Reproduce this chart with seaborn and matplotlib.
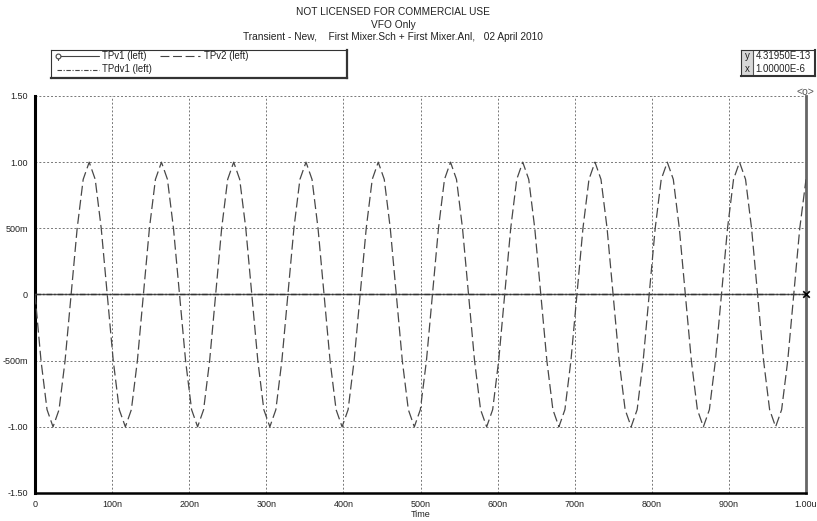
import matplotlib
matplotlib.use("Agg")
import matplotlib.pyplot as plt
import numpy as np
import pandas as pd
import seaborn as sns
from matplotlib.ticker import MultipleLocator, FixedLocator, FixedFormatter

# ---------------- data (time in ns, values in V) ----------------
tpv2_time = [0.0, 7.8, 15.6, 23.4, 31.2, 39.0, 46.9, 54.7, 62.5, 70.3, 78.1, 85.9,
             93.7, 101.5, 109.3, 117.2, 125.0, 132.8, 140.6, 148.4, 156.2, 164.0, 171.8, 179.6,
             187.4, 195.3, 203.1, 210.9, 218.7, 226.5, 234.3, 242.1, 249.9, 257.7, 265.5, 273.4,
             281.2, 289.0, 296.8, 304.6, 312.4, 320.2, 328.0, 335.8, 343.6, 351.5, 359.3, 367.1,
             374.9, 382.7, 390.5, 398.3, 406.1, 413.9, 421.7, 429.6, 437.4, 445.2, 453.0, 460.8,
             468.6, 476.4, 484.2, 492.0, 499.8, 507.7, 515.5, 523.3, 531.1, 538.9, 546.7, 554.5,
             562.3, 570.1, 577.9, 585.8, 593.6, 601.4, 609.2, 617.0, 624.8, 632.6, 640.4, 648.2,
             656.0, 663.9, 671.7, 679.5, 687.3, 695.1, 702.9, 710.7, 718.5, 726.3, 734.1, 742.0,
             749.8, 757.6, 765.4, 773.2, 781.0, 788.8, 796.6, 804.4, 812.2, 820.1, 827.9, 835.7,
             843.5, 851.3, 859.1, 866.9, 874.7, 882.5, 890.3, 898.2, 906.0, 913.8, 921.6, 929.4,
             937.2, 945.0, 952.8, 960.6, 968.4, 976.3, 984.1, 991.9, 1000.0]
tpv2_value = [0, -0.5, -0.87, -1, -0.87, -0.5, 0, 0.5, 0.87, 1, 0.87, 0.5,
              0, -0.5, -0.87, -1, -0.87, -0.5, 0, 0.5, 0.87, 1, 0.87, 0.5,
              0, -0.5, -0.87, -1, -0.87, -0.5, 0, 0.5, 0.87, 1, 0.87, 0.5,
              0, -0.5, -0.87, -1, -0.87, -0.5, 0, 0.5, 0.87, 1, 0.87, 0.5,
              0, -0.5, -0.87, -1, -0.87, -0.5, 0, 0.5, 0.87, 1, 0.87, 0.5,
              0, -0.5, -0.87, -1, -0.87, -0.5, 0, 0.5, 0.87, 1, 0.87, 0.5,
              0, -0.5, -0.87, -1, -0.87, -0.5, 0, 0.5, 0.87, 1, 0.87, 0.5,
              0, -0.5, -0.87, -1, -0.87, -0.5, 0, 0.5, 0.87, 1, 0.87, 0.5,
              0, -0.5, -0.87, -1, -0.87, -0.5, 0, 0.5, 0.87, 1, 0.87, 0.5,
              0, -0.5, -0.87, -1, -0.87, -0.5, 0, 0.5, 0.87, 1, 0.87, 0.5,
              0, -0.5, -0.87, -1, -0.87, -0.5, 0, 0.5, 0.87]
tpv1_time = [0.0, 1000.0]
tpv1_value = [0.0, 0.0]
tpdv1_time = [0.0, 1000.0]
tpdv1_value = [0.0, 0.0]
cursor_time = [1000.0]
cursor_value = [0.0]

x_ticks = [0, 100, 200, 300, 400, 500, 600, 700, 800, 900, 1000]
x_tick_labels = ["0", "100n", "200n", "300n", "400n", "500n", "600n", "700n", "800n", "900n", "1.00u"]
y_ticks = [-1.5, -1.0, -0.5, 0.0, 0.5, 1.0, 1.5]
y_tick_labels = ["-1.50", "-1.00", "-500m", "0", "500m", "1.00", "1.50"]

title_lines = ["NOT LICENSED FOR COMMERCIAL USE", "VFO Only",
               "Transient - New,    First Mixer.Sch + First Mixer.Anl,   02 April 2010"]
legend_labels = ["TPv1 (left)", "TPv2 (left)", "TPdv1 (left)"]
cursor_labels = ["y", "x"]
cursor_values = ["4.31950E-13", "1.00000E-6"]

# ---------------- style ----------------
sns.set_style("white")
plt.rcParams["font.family"] = ["Liberation Sans", "DejaVu Sans"]

W, H = 817, 521
fig = plt.figure(figsize=(W / 100, H / 100), dpi=100)


def px(x0, y0, x1, y1):
    return [x0 / W, 1 - y1 / H, (x1 - x0) / W, (y1 - y0) / H]


ax = fig.add_axes(px(35, 96, 806, 493))

df2 = pd.DataFrame({"t": tpv2_time, "v": tpv2_value})
df1 = pd.DataFrame({"t": tpv1_time, "v": tpv1_value})
dfd = pd.DataFrame({"t": tpdv1_time, "v": tpdv1_value})

sns.lineplot(data=df1, x="t", y="v", ax=ax, color="#555555", lw=1.0,
             estimator=None, sort=False, zorder=3)
sns.lineplot(data=dfd, x="t", y="v", ax=ax, color="#333333", lw=1.0,
             linestyle=(0, (4, 1.5, 1, 1.5)), estimator=None, sort=False, zorder=4)
sns.lineplot(data=df2, x="t", y="v", ax=ax, color="#484848", lw=0.9,
             linestyle=(0, (8, 3.3)), estimator=None, sort=False, zorder=5)
sns.scatterplot(x=cursor_time, y=cursor_value, ax=ax, marker="x", color="black",
                s=22, linewidth=1.2, zorder=7, clip_on=False)

ax.set_xlim(0, 1000)
ax.set_ylim(-1.5, 1.5)
ax.xaxis.set_major_locator(FixedLocator(x_ticks))
ax.xaxis.set_major_formatter(FixedFormatter(x_tick_labels))
ax.yaxis.set_major_locator(FixedLocator(y_ticks))
ax.yaxis.set_major_formatter(FixedFormatter(y_tick_labels))
ax.xaxis.set_minor_locator(MultipleLocator(20))
ax.yaxis.set_minor_locator(MultipleLocator(0.1))
ax.tick_params(axis="both", which="major", labelsize=6.5, length=3, width=1,
               colors="#222222", direction="out", pad=2)
ax.tick_params(axis="both", which="minor", length=2, width=0.8, colors="#222222",
               direction="out")
ax.grid(True, which="major", linestyle=(0, (2, 2)), color="#777777", lw=0.7, zorder=1)
ax.set_xlabel("Time", fontsize=6.5, labelpad=1, color="#222222")
ax.set_ylabel("")

ax.spines["top"].set_visible(False)
ax.spines["left"].set_linewidth(2.2)
ax.spines["left"].set_color("black")
ax.spines["bottom"].set_linewidth(1.8)
ax.spines["bottom"].set_color("black")
ax.spines["right"].set_linewidth(2.0)
ax.spines["right"].set_color("#666666")

# ---------------- titles ----------------
for i, line in enumerate(title_lines):
    fig.text(393 / W, 1 - (12 + 12.5 * i) / H, line, ha="center", va="center",
             fontsize=7.3, color="#222222")

fig.text(805 / W, 1 - 92 / H, "<o>", ha="center", va="center", fontsize=7.5,
         color="#555555")

# ---------------- legend box ----------------
lax = fig.add_axes(px(51, 50, 347, 78))
lax.set_xlim(51, 347)
lax.set_ylim(78, 50)
lax.set_xticks([])
lax.set_yticks([])
for s in ["top", "left"]:
    lax.spines[s].set_linewidth(0.8)
    lax.spines[s].set_color("#333333")
for s in ["bottom", "right"]:
    lax.spines[s].set_linewidth(1.6)
    lax.spines[s].set_color("#333333")
lax.plot([58, 99], [56, 56], color="#444444", lw=0.8)
lax.plot([58, 58], [56, 60], color="#444444", lw=0.8)
lax.plot([58], [55.5], marker="o", ms=3.5, mfc="white", mec="#444444", mew=0.8)
lax.text(102, 56, legend_labels[0], fontsize=6.9, va="center", ha="left", color="#222222")
lax.plot([160, 200], [56, 56], color="#444444", lw=0.8, linestyle=(0, (8, 3.3)))
lax.text(204, 56, legend_labels[1], fontsize=6.9, va="center", ha="left", color="#222222")
lax.plot([57, 99], [69.5, 69.5], color="#444444", lw=0.8, linestyle=(0, (4, 1.5, 1, 1.5)))
lax.text(102, 69.5, legend_labels[2], fontsize=6.9, va="center", ha="left", color="#222222")

# ---------------- cursor readout box ----------------
cax = fig.add_axes(px(741, 50, 815.5, 76))
cax.set_xlim(741, 815.5)
cax.set_ylim(76, 50)
cax.set_xticks([])
cax.set_yticks([])
cax.axvspan(741, 753, color="#d8d8d8", lw=0)
cax.axvline(753, color="#555555", lw=0.8)
for s in ["top", "left"]:
    cax.spines[s].set_linewidth(0.8)
    cax.spines[s].set_color("#333333")
for s in ["bottom", "right"]:
    cax.spines[s].set_linewidth(1.5)
    cax.spines[s].set_color("#333333")
for i, (lab, val) in enumerate(zip(cursor_labels, cursor_values)):
    yy = 56 + 13.5 * i
    cax.text(747, yy, lab, fontsize=7.0, va="center", ha="center", color="#222222")
    cax.text(755.5, yy, val, fontsize=6.9, va="center", ha="left", color="#222222")

fig.savefig("out.png", dpi=100)
